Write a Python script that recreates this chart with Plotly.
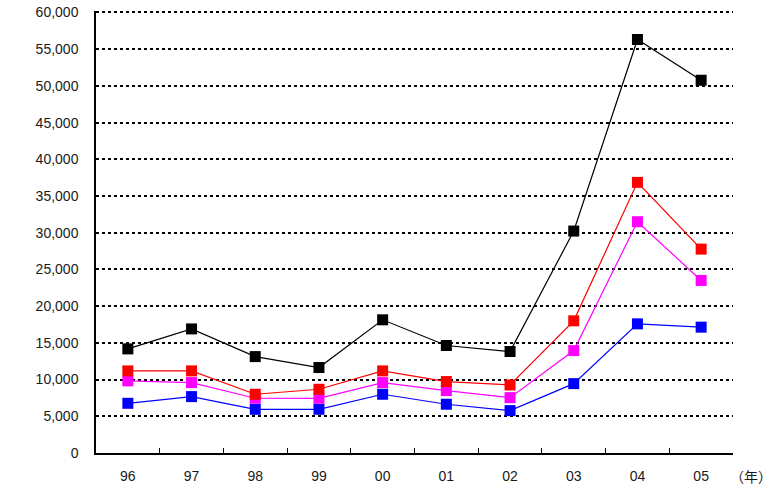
import plotly.graph_objects as go

years = ["96", "97", "98", "99", "00", "01", "02", "03", "04", "05"]

total = [14180, 16900, 13130, 11640, 18140, 14640, 13820, 30230, 56320, 50770]
red_series = [11180, 11180, 8000, 8680, 11180, 9730, 9270, 18000, 36860, 27770]
magenta_series = [9820, 9590, 7460, 7450, 9590, 8500, 7540, 13950, 31500, 23500]
blue_series = [6770, 7680, 5950, 5950, 8000, 6640, 5770, 9450, 17590, 17140]

y_ticks = list(range(0, 60001, 5000))

series = [
    (blue_series, "#0000FF"),
    (magenta_series, "#FF00FF"),
    (red_series, "#FF0000"),
    (total, "#000000"),
]

fig = go.Figure()
for values, color in series:
    fig.add_trace(go.Scatter(
        x=years, y=values, mode="lines+markers",
        line=dict(color=color, width=1.2),
        marker=dict(symbol="square", size=11, color=color),
        showlegend=False, hoverinfo="skip",
    ))

fig.update_layout(
    width=778, height=485,
    margin=dict(l=96, r=45, t=11, b=32),
    paper_bgcolor="white", plot_bgcolor="white",
    font=dict(family="Liberation Sans, Arial, sans-serif", size=14, color="#1a1a1a"),
    showlegend=False,
)

fig.update_xaxes(
    type="category", range=[-0.5, 9.5], automargin=False,
    showline=True, linecolor="black", linewidth=1.5,
    ticks="inside", tickson="boundaries", ticklen=5, tickcolor="black", tickwidth=1,
    showgrid=False, zeroline=False,
    ticklabelstandoff=9,
)

# a little headroom so the 60,000 grid line is still drawn inside the plot
fig.update_yaxes(
    range=[0, 60200], tickvals=y_ticks, tickformat=",", automargin=False,
    showline=True, linecolor="black", linewidth=1.5,
    ticks="", ticklabelstandoff=13,
    showgrid=True, gridcolor="black", gridwidth=2, griddash="dot",
    zeroline=False,
)

fig.add_annotation(
    text="（年）", xref="paper", yref="paper", x=1.0, y=0, xanchor="left", yanchor="top",
    xshift=-5, yshift=-11, showarrow=False,
    font=dict(family="Noto Sans CJK JP", size=14, color="#1a1a1a"),
)

fig.write_html("out.html")
